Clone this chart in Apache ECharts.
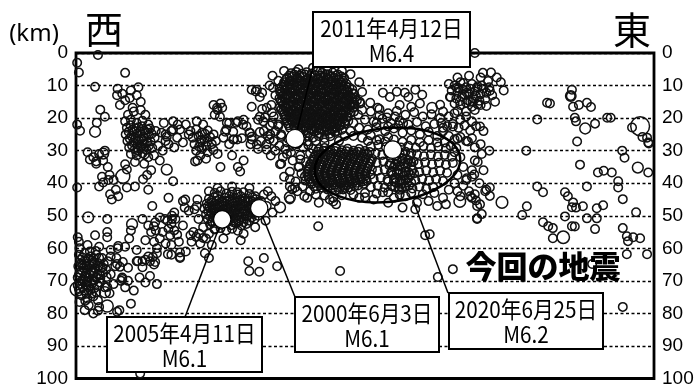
<!DOCTYPE html>
<html>
<head>
<meta charset="utf-8">
<script src="https://cdn.jsdelivr.net/npm/echarts@6/dist/echarts.min.js"></script>
<style>
html,body{margin:0;padding:0;background:#fff;}
#chart{width:698px;height:388px;}
</style>
</head>
<body>
<div id="chart"></div>
<script>
// Hypocentre cross-section, west (left) to east (right); x = horizontal position, y = depth (km)

// depth axis range and tick step (km)
const depthMin = 0;
const depthMax = 100;
const depthStep = 10;

// notable earthquakes
const mainDates = ['2011年4月12日', '2005年4月11日', '2000年6月3日', '2020年6月25日'];
const mainMags = [6.4, 6.1, 6.1, 6.2];
const mainX = [37.9, 25.3, 31.7, 54.8];
const mainDepth = [26.3, 51.1, 47.7, 29.7];

// small hypocentres, western part
const quakesWest = [
[0.2,3],[0.5,6],[3.8,0.6],[8.5,6.1],[3.3,10.4],
[7.2,11],[8,12.5],[9.5,11.5],[10.5,13],[8.5,14.5],[11.2,15],[9.8,16.8],[7.6,16],[10.8,10.5],[9.3,13.8],[7.1,13],
[4.2,17.4],[5,19.6],[3.6,21.4],[0.2,22],[0.7,23.9],
[8.5,21],[9.5,20.5],[10.5,21.5],[11.5,20.8],[12.5,22],[8.8,23],[9.8,23.5],[10.8,22.8],[11.8,23.8],[12.8,23.2],[13.8,24],
[8.6,25],[9.6,25.5],[10.6,24.8],[11.6,25.8],[12.6,25.2],[13.6,26],[8.9,27],[9.9,27.5],[10.9,26.8],[11.9,27.8],[12.9,27.2],
[9.2,29],[10.2,29.5],[11.2,28.8],[12.2,29.8],[13.2,29.2],[14.2,28.5],[9.5,31],[10.5,31.5],[11.5,30.8],[12.5,32],[13.5,31.5],
[10.2,33.5],[11.8,34],[13,36],[14.5,33],[15,30],[15.5,27],[14.8,24.5],[9,19],[10,18],[11.2,17.5],[12,19],
[10.3,26.2],[11.3,26.3],[9.3,26.3],[12.3,27.5],[10.7,28.2],[11.7,29.2],[10.1,24.1],[11.1,24.2],[12.1,24.6],[9.4,22.2],[10.4,30.4],
[9.1,24.2],[10.4,23.2],[11.4,22.5],[12.4,23.5],[9.7,28.4],[10.6,27.1],[11.6,27.1],[12.6,28.5],[10.8,30],[11.9,31.2],[13.1,24.8],
[15.5,25],[16.5,24],[17.5,26],[18,23.5],[16,28],[17,29],[18.5,27.5],[19.5,25],[15.2,21.5],[16.8,21],[19,22],[17.6,22],[16.8,23.5],[15.7,25.7],
[2,30.5],[3,32],[4,31],[5,30],[3.5,34],[5.5,35],[4.5,38],[5.8,37.5],[6.5,39],[4,41],[2.4,32.7],[4.7,33],[3.5,33.3],
[8.8,35.8],[8.5,34.2],[10.2,41],[12.5,42],[5.9,43.4],[6.9,42],[0.2,41.3],[8.8,41.3],[4.7,39.8],[5.6,39],[6.2,45],[7.3,44],
[11.6,38.8],[12.3,37.5],[16.8,39.4],[18.9,45],[16,44.5],[18.5,45.5],
[5.4,51],[0.3,56.6],[5.4,55],[5.4,56.6],[3.3,56],[7.3,59.3],[13.7,52],[13.5,53.2],[13.8,54.5],[15.4,51],[16.6,50],[16.6,51],
[11.5,51],[12.5,53],[13,55],[12,57.5],[13.5,58],[14.5,57],[15.5,58.5],[16.5,59],[14,60],[15.8,51.5],[16.5,52.5],[17.2,51],
[16,54],[17,54.5],[16.3,56],[17.5,55.8],[15,55],[17.8,58],[18.5,53],[14.5,50.5],[19.8,56],[19,61],[18,63],[16.5,62],
[12.8,64],[14,61.5],[18.8,47.5],[13.2,47],[17,49],[9.5,54.5],[9.2,57],[8.5,59.5],[10.5,60.5],[7.2,60],[6,62.5],
[10.5,64],[12,63.5],[13.5,65],[11.5,65.8],[18,62.7],[12.8,68.5],[15.9,61.8],[18,61.3],[13.3,62.7],[13.7,64.2],[10.7,63.9],
[0.5,62],[1.5,61.5],[2.5,62.5],[3.5,62],[4.5,63],[0.8,63.5],[1.8,64],[2.8,63.8],[3.8,64.5],[4.8,64.8],[0.4,65.5],[1.3,66],
[2.3,65.2],[3.3,66.2],[4.3,66],[5.2,66.5],[0.7,67.5],[1.7,67.8],[2.7,67.2],[3.7,68],[4.7,67.6],[0.3,69],[1.2,69.5],[2.2,69],
[3.2,69.8],[4.2,69.3],[5.3,68.8],[0.8,71],[1.8,71.2],[2.8,70.8],[3.8,71.5],[0.5,72.5],[1.5,73],[2.5,72.8],[3.5,73.5],
[1,74.5],[2,75.5],[3,74.8],[0.6,76.5],[2.2,77.5],[3.8,76],[5.5,64],[6,68],[6.5,71],[5,72],[6.8,65.5],[4,78],[1.5,79],[3,80],
[7,63],[8,69],[9,66],[8.5,72],[10,73],[11.5,64],[12.5,62.5],[11,69],[12,70.5],[14,71],[7.5,79],[9.5,77],
[0.5,58],[2,59],[4,59.5],[6,60.5],[0.6,60],[1.2,65],[2.6,66.8],[3.1,64.2],[4.1,70.5],[1.9,70.3],[2.4,61],[3.4,60.8],
[1.1,62.8],[2.1,63.1],[3.0,63.0],[4.0,62.9],[0.9,64.7],[1.9,65.3],[2.9,64.9],[3.9,65.4],[4.6,65.9],[1.0,66.8],[2.0,66.5],
[3.0,67.7],[4.2,68.3],[0.5,68.2],[1.5,68.6],[2.5,68.2],[3.5,68.9],[1.0,70.1],[2.0,70.0],[3.0,69.9],[0.3,71.4],[1.2,72.0],
[2.2,71.9],[3.2,72.3],[1.8,74.0],[2.7,73.9],
[7.1,64.8],[7.6,65.7],[8.1,64.2],[8,69.4],[7.8,70],[9,70],[5.4,71.9],[5.8,73.8],[1.6,76.1],[3.8,79.2],[7.1,79.5],[11.1,98.5]
];

// small hypocentres, central-western part
const quakesCentralWest = [
[19.8,24],[20.8,23.5],[21.8,24.5],[22.8,23.8],[23.8,25],[20.2,26],[21.2,25.5],[22.2,26.5],[23.2,25.8],[24.2,27],
[20.5,28],[21.5,27.5],[22.5,28.5],[23.5,28],[20.8,30],[21.8,29.5],[22.8,30.5],[23.8,29.8],[21.5,31.5],[22.5,32.5],
[21,33],[24.5,31],[20.9,21],[22,22],[20.6,33.3],[21.7,26.7],[22.7,27.3],[21.3,28.8],[22.3,24.8],
[24.4,16.8],[25.3,16.8],[24,19],[24.9,19.6],[23.8,16],[24.5,17.5],[25,15.5],[26.1,21.4],[27.7,21.4],[28.9,22],
[25.8,24.2],[27.2,24.2],[27.9,26.6],[28.7,26.2],[27.3,26.6],[30.4,25.7],[26.5,21.5],[29,20.5],[26,23.5],[28,21],[29.5,22.5],[30,24.5],
[30.4,11.3],[31.1,11.8],[31.8,13.5],[30.4,16.5],[33,16.8],[31.8,19.6],[32.4,21],[30.4,26.6],[30.2,28],[33.6,25],
[31.3,11.3],[32.2,12.2],[34.1,10.7],[32.2,17.2],[33.9,18.3],[31.5,20.5],[32.7,19.8],[33.6,22.3],[30.1,24.5],[31.8,24.3],
[33.2,25.5],[31.3,28.1],[33,29.7],[34,21.5],[35,22.5],[34.5,24],[35.5,25.5],[34.2,27],[35.2,28.5],[36.2,29.5],[33.5,26.5],
[33,28],[34.5,30],[33.7,31.5],[35.8,32],[32.5,24],[31.5,29.5],[32,27],
[25.5,26],[26.5,28],[27,31.5],[29,33],[28,35],[25,35],[27.2,26.6],[28.4,36.4],
[24,43],[25,42.5],[26,43.2],[27,42.6],[28,43.5],[29,42.8],[30,43.3],[31,44],
[23,44.8],[23.9,44.3],[24.8,45],[25.7,44.4],[26.6,45.1],[27.5,44.5],[28.4,45.2],[29.3,44.6],[30.2,45.3],[31.1,44.9],[32,45.5],
[22.6,46.3],[23.5,46],[24.4,46.6],[25.3,46.1],[26.2,46.7],[27.1,46.2],[28,46.8],[28.9,46.3],[29.8,46.9],[30.7,46.4],[31.6,47],
[22.2,47.8],[23.1,47.4],[24,48],[24.9,47.5],[25.8,48.1],[26.7,47.6],[27.6,48.2],[28.5,47.7],[29.4,48.3],[30.3,47.8],[31.2,48.4],[32.1,48],
[22.5,49.5],[23.4,49],[24.3,49.6],[25.2,49.1],[26.1,49.7],[27,49.2],[27.9,49.8],[28.8,49.3],[29.7,49.9],[30.6,49.4],[31.5,50],
[22.8,51],[23.7,50.6],[24.6,51.2],[25.5,50.7],[26.4,51.3],[27.3,50.8],[28.2,51.4],[29.1,50.9],[30,51.5],[30.9,51],
[23.2,52.6],[24.1,52.2],[25,52.8],[25.9,52.3],[26.8,52.9],[27.7,52.4],[28.6,53],[29.5,52.5],
[24,54.2],[25,53.8],[26,54.5],[27,54],[28,54.6],
[23.4,45.5],[24.3,45.4],[25.2,45.6],[26.1,45.4],[27,45.7],[27.9,45.5],[28.8,45.7],[29.7,45.5],[30.6,45.8],[31.5,45.7],
[22.8,47.1],[23.7,46.9],[24.6,47.2],[25.5,46.9],[26.4,47.3],[27.3,47],[28.2,47.3],[29.1,47],[30,47.4],[30.9,47.1],[31.8,47.4],
[22.9,48.7],[23.8,48.5],[24.7,48.8],[25.6,48.5],[26.5,48.9],[27.4,48.6],[28.3,48.9],[29.2,48.6],[30.1,49],[31,48.7],
[23.2,50.2],[24.1,50.1],[25,50.3],[25.9,50.1],[26.8,50.4],[27.7,50.1],[28.6,50.4],[29.5,50.2],[30.4,50.5],
[23.6,51.8],[24.5,51.7],[25.4,51.9],[26.3,51.7],[27.2,52],[28.1,51.7],[29,52],[24.5,43.8],[26.5,44],[28.5,44],[30.5,44.3],
[21,45],[20.5,48],[21.2,51],[22,53.5],[23,55.5],[29,55.5],[31,53.5],[32.8,51.5],[33,47],[32.5,43.5],[30,41.5],[27,41],
[24.5,41.5],[23,42.5],[34,49],[33.8,44],[22,56.8],[25.5,57],[19.5,48.5],[34.5,45.5],[20.9,47],
[28.5,57.5],[37,41],[37.9,41.3],[33.2,42.5],[27.9,42.8],
[29.8,64],[30,67],[31.7,67.2],[34.8,65.5],[32.5,63],[22.3,61.5],[23,63],[20.3,55],[20.8,56.5],[21.3,55.5],[20,58],
[21.5,58.5],[22.5,57],[23.5,59],[24,54],[23.5,52]
];

// small hypocentres around the 2011 event
const quakes2011Zone = [
[37.2,6.2],[38.1,5.8],[39,6.4],[39.9,5.9],[40.8,6.3],[41.7,5.7],[42.6,6.1],[43.5,6.5],[44.4,6],[45.3,6.6],
[36.5,7.6],[37.4,7.2],[38.3,7.8],[39.2,7.3],[40.1,7.9],[41,7.4],[41.9,8],[42.8,7.5],[43.7,8.1],[44.6,7.6],[45.5,8.2],[46.4,7.7],
[36,9],[36.9,8.6],[37.8,9.2],[38.7,8.7],[39.6,9.3],[40.5,8.8],[41.4,9.4],[42.3,8.9],[43.2,9.5],[44.1,9],[45,9.6],[45.9,9.1],[46.8,9.5],
[35.6,10.4],[36.5,10],[37.4,10.6],[38.3,10.1],[39.2,10.7],[40.1,10.2],[41,10.8],[41.9,10.3],[42.8,10.9],[43.7,10.4],[44.6,11],
[45.5,10.5],[46.4,11.1],[47.3,10.6],
[35.3,11.8],[36.2,11.4],[37.1,12],[38,11.5],[38.9,12.1],[39.8,11.6],[40.7,12.2],[41.6,11.7],[42.5,12.3],[43.4,11.8],[44.3,12.4],
[45.2,11.9],[46.1,12.5],[47,12],[47.9,12.4],
[35.7,13.2],[36.6,12.8],[37.5,13.4],[38.4,12.9],[39.3,13.5],[40.2,13],[41.1,13.6],[42,13.1],[42.9,13.7],[43.8,13.2],[44.7,13.8],
[45.6,13.3],[46.5,13.9],[47.4,13.4],[48.3,13.8],
[35.4,14.6],[36.3,14.2],[37.2,14.8],[38.1,14.3],[39,14.9],[39.9,14.4],[40.8,15],[41.7,14.5],[42.6,15.1],[43.5,14.6],[44.4,15.2],
[45.3,14.7],[46.2,15.3],[47.1,14.8],[48,15.2],
[35.8,16],[36.7,15.6],[37.6,16.2],[38.5,15.7],[39.4,16.3],[40.3,15.8],[41.2,16.4],[42.1,15.9],[43,16.5],[43.9,16],[44.8,16.6],
[45.7,16.1],[46.6,16.7],[47.5,16.2],
[35.5,17.4],[36.4,17],[37.3,17.6],[38.2,17.1],[39.1,17.7],[40,17.2],[40.9,17.8],[41.8,17.3],[42.7,17.9],[43.6,17.4],[44.5,18],
[45.4,17.5],[46.3,18.1],[47.2,17.6],[48.1,18],
[36,18.8],[36.9,18.4],[37.8,19],[38.7,18.5],[39.6,19.1],[40.5,18.6],[41.4,19.2],[42.3,18.7],[43.2,19.3],[44.1,18.8],[45,19.4],
[45.9,18.9],[46.8,19.5],
[36.3,20.2],[37.2,19.8],[38.1,20.4],[39,19.9],[39.9,20.5],[40.8,20],[41.7,20.6],[42.6,20.1],[43.5,20.7],[44.4,20.2],[45.3,20.8],
[46.2,20.3],[47.1,20.9],
[36.6,21.6],[37.5,21.2],[38.4,21.8],[39.3,21.3],[40.2,21.9],[41.1,21.4],[42,22],[42.9,21.5],[43.8,22.1],[44.7,21.6],[45.6,22.2],[46.5,21.7],
[37,23],[37.9,22.6],[38.8,23.2],[39.7,22.7],[40.6,23.3],[41.5,22.8],[42.4,23.4],[43.3,22.9],[44.2,23.5],[45.1,23],[46,23.6],
[38.5,24.4],[39.4,24],[40.3,24.6],[41.2,24.1],[42.1,24.7],[43,24.2],[43.9,24.8],[44.8,24.3],
[39,25.8],[40,25.4],[41,26],[42,25.5],[43,26.1],[44,25.6],[40,27.2],[41.5,27],[43,27.5],[38.5,27.5],
[36.9,6.9],[37.8,6.7],[38.7,7.0],[39.6,6.6],[40.5,7.1],[41.4,6.8],[42.3,7.0],[43.2,6.7],[44.1,7.1],[45,6.9],[45.9,7.2],
[36.3,8.2],[37.2,8.4],[38.1,8.1],[39,8.5],[39.9,8.2],[40.8,8.4],[41.7,8.1],[42.6,8.5],[43.5,8.2],[44.4,8.6],[45.3,8.3],[46.2,8.5],
[35.9,9.8],[36.8,9.6],[37.7,9.9],[38.6,9.5],[39.5,9.9],[40.4,9.6],[41.3,10],[42.2,9.7],[43.1,10.1],[44,9.8],[44.9,10.1],[45.8,9.8],[46.7,10.2],
[35.2,11.0],[36.1,11.2],[37,10.9],[37.9,11.3],[38.8,11.0],[39.7,11.3],[40.6,11.0],[41.5,11.3],[42.4,11.0],[43.3,11.4],[44.2,11.1],
[45.1,11.4],[46,11.1],[46.9,11.4],[47.8,11.2],
[35.5,12.4],[36.4,12.6],[37.3,12.3],[38.2,12.7],[39.1,12.4],[40,12.7],[40.9,12.4],[41.8,12.7],[42.7,12.4],[43.6,12.8],[44.5,12.5],
[45.4,12.8],[46.3,12.5],[47.2,12.8],[48.1,12.6],
[35.2,13.9],[36.1,14.0],[37,13.8],[37.9,14.1],[38.8,13.8],[39.7,14.1],[40.6,13.8],[41.5,14.1],[42.4,13.8],[43.3,14.2],[44.2,13.9],
[45.1,14.2],[46,13.9],[46.9,14.2],[47.8,14],[48.6,14.6],
[35.6,15.2],[36.5,15.4],[37.4,15.1],[38.3,15.5],[39.2,15.2],[40.1,15.5],[41,15.2],[41.9,15.5],[42.8,15.2],[43.7,15.6],[44.6,15.3],
[45.5,15.6],[46.4,15.3],[47.3,15.6],[48.2,15.8],
[35.3,16.6],[36.2,16.8],[37.1,16.5],[38,16.9],[38.9,16.6],[39.8,16.9],[40.7,16.6],[41.6,16.9],[42.5,16.6],[43.4,17],[44.3,16.7],
[45.2,17],[46.1,16.7],[47,17],[47.9,16.8],
[35.8,18.0],[36.7,18.2],[37.6,17.9],[38.5,18.3],[39.4,18.0],[40.3,18.3],[41.2,18.0],[42.1,18.3],[43,18.0],[43.9,18.4],[44.8,18.1],
[45.7,18.4],[46.6,18.1],[47.5,18.4],
[36.2,19.4],[37.1,19.6],[38,19.3],[38.9,19.7],[39.8,19.4],[40.7,19.7],[41.6,19.4],[42.5,19.7],[43.4,19.4],[44.3,19.8],[45.2,19.5],
[46.1,19.8],[47,19.6],
[36.5,20.8],[37.4,21],[38.3,20.7],[39.2,21.1],[40.1,20.8],[41,21.1],[41.9,20.8],[42.8,21.1],[43.7,20.8],[44.6,21.2],[45.5,20.9],[46.4,21.2],
[36.8,22.2],[37.7,22.4],[38.6,22.1],[39.5,22.5],[40.4,22.2],[41.3,22.5],[42.2,22.2],[43.1,22.5],[44,22.2],[44.9,22.6],[45.8,22.3],
[38,23.8],[38.9,23.6],[39.8,23.9],[40.7,23.5],[41.6,23.9],[42.5,23.6],[43.4,24],[44.3,23.7],[45.2,24],
[34,7],[33.5,10],[34.5,13],[33.8,16],[34.2,19.5],[35,22],[35.5,25],[36.8,26.5],[37.5,28.5],[49,9],[49.5,12],[49.2,15.5],
[48.8,19],[48,21.5],[47.5,24],[46.5,25.5],[45.5,27],[38.5,5],[41,4.5],[43.5,5],[46,5.5],[47.5,6.5],[36,5.5],[35,8.5],
[36.5,27.5],[37.5,26.5],[38.3,28],[39.3,29],[40.2,28.3],[39,26.8],[41,29.5],[37.2,30.5],[40.5,30.8],[38,24.8],
[49.1,15],[50.9,15.3],[52.2,16.8],[53.1,12.2],[54.3,13.5],[55.5,11.9],[56.9,12.2],[58.7,11.3],[59.9,12.8],[63,15.9],
[57.5,13.5],[56,16],[58,16.5],[59.5,15.5],[49.5,17.5],[51,18],[52.5,17.2],[54,18.5],[55.5,17.8],[57,19],[58.5,18.2],[60,19.5],
[61.5,18.8],[63,20],[50,20.5],[51.5,21],[53,20.2],[54.5,21.5],[56,20.8],[57.5,22],[59,21.2],[60.5,22.5],[62,21.8],[63.5,23],
[49,23],[50.5,23.5],[52,22.8],[53.5,24],[55,23.2],[56.5,24.5],[58,23.8],[59.5,25],[61,24.2],[62.5,25.5],[48,25.5],[49.5,26],
[51,25.3],[52.5,26.5],[54,25.8],[52.5,19.2],[53.8,19.8],[55.2,19.5],[56.6,21.6],[52,21.6],[54,22.6],[55.8,22.2]
];

// small hypocentres inside and around the 2020 ellipse
const quakesEllipse = [
[42,29.6],[43,29.2],[44,29.8],[45,29.3],[46,29.9],[47,29.4],[48,30],[49,29.5],[50,30.1],
[41.5,31.2],[42.5,30.8],[43.5,31.4],[44.5,30.9],[45.5,31.5],[46.5,31],[47.5,31.6],[48.5,31.1],[49.5,31.7],[50.5,31.2],
[41,32.7],[42,32.3],[43,32.9],[44,32.4],[45,33],[46,32.5],[47,33.1],[48,32.6],[49,33.2],[50,32.7],[51,33.3],
[40.5,34.2],[41.5,33.8],[42.5,34.4],[43.5,33.9],[44.5,34.5],[45.5,34],[46.5,34.6],[47.5,34.1],[48.5,34.7],[49.5,34.2],[50.5,34.8],
[40.2,35.7],[41.2,35.3],[42.2,35.9],[43.2,35.4],[44.2,36],[45.2,35.5],[46.2,36.1],[47.2,35.6],[48.2,36.2],[49.2,35.7],[50.2,36.3],[51.2,35.8],
[40,37.2],[41,36.8],[42,37.4],[43,36.9],[44,37.5],[45,37],[46,37.6],[47,37.1],[48,37.7],[49,37.2],[50,37.8],[51,37.3],
[40.3,38.7],[41.3,38.3],[42.3,38.9],[43.3,38.4],[44.3,39],[45.3,38.5],[46.3,39.1],[47.3,38.6],[48.3,39.2],[49.3,38.7],[50.3,39.3],
[40.8,40.2],[41.8,39.8],[42.8,40.4],[43.8,39.9],[44.8,40.5],[45.8,40],[46.8,40.6],[47.8,40.1],[48.8,40.7],[49.8,40.2],
[41.5,41.7],[42.5,41.3],[43.5,41.9],[44.5,41.4],[45.5,42],[46.5,41.5],[47.5,42.1],
[41.8,30.3],[42.8,30.1],[43.8,30.5],[44.8,30.1],[45.8,30.6],[46.8,30.2],[47.8,30.7],[48.8,30.3],[49.8,30.8],[50.8,30.4],
[41.2,31.9],[42.2,31.6],[43.2,32.1],[44.2,31.7],[45.2,32.2],[46.2,31.8],[47.2,32.3],[48.2,31.9],[49.2,32.4],[50.2,32],[51.2,32.5],
[40.8,33.4],[41.8,33.1],[42.8,33.6],[43.8,33.2],[44.8,33.7],[45.8,33.3],[46.8,33.8],[47.8,33.4],[48.8,33.9],[49.8,33.5],[50.8,34],
[40.4,35],[41.4,34.6],[42.4,35.1],[43.4,34.7],[44.4,35.2],[45.4,34.8],[46.4,35.3],[47.4,34.9],[48.4,35.4],[49.4,35],[50.4,35.5],
[40.1,36.4],[41.1,36.1],[42.1,36.6],[43.1,36.2],[44.1,36.7],[45.1,36.3],[46.1,36.8],[47.1,36.4],[48.1,36.9],[49.1,36.5],[50.1,37],
[40.2,37.9],[41.2,37.6],[42.2,38.1],[43.2,37.7],[44.2,38.2],[45.2,37.8],[46.2,38.3],[47.2,37.9],[48.2,38.4],[49.2,38],[50.2,38.5],
[40.6,39.5],[41.6,39.1],[42.6,39.6],[43.6,39.2],[44.6,39.7],[45.6,39.3],[46.6,39.8],[47.6,39.4],[48.6,39.9],[49.6,39.5],
[41.2,41],[42.2,40.6],[43.2,41.1],[44.2,40.7],[45.2,41.2],[46.2,40.8],[47.2,41.3],[48.2,40.9],
[50.5,27],[52,26.8],[53.5,27.2],[55,26.6],[56.5,27.3],[58,26.7],[59.5,27.4],[61,26.8],[62.5,27.5],
[51,28.7],[52.3,28.2],[53.6,28.9],[54.9,28.4],[56.2,29],[57.5,28.5],[58.8,29.1],[60.1,28.6],[61.4,29.2],[62.7,28.7],[64,29.3],
[51.8,30.8],[53,31.3],[54.2,30.9],[55.4,31.5],[56.6,31],[57.8,31.6],[59,31.1],[60.2,31.7],[61.4,31.2],[62.6,31.8],[63.8,31.3],[65,31.9],
[52,33.7],[53.2,33.3],[54.4,33.9],[55.6,33.4],[56.8,34],[58,33.5],[59.2,34.1],[60.4,33.6],[61.6,34.2],[62.8,33.7],[64,34.3],[65.2,33.8],
[52.2,36.2],[53.4,35.8],[54.6,36.4],[55.8,35.9],[57,36.5],[58.2,36],[59.4,36.6],[60.6,36.1],[61.8,36.7],[63,36.2],[64.2,36.8],
[51.5,38.7],[52.7,38.3],[53.9,38.9],[55.1,38.4],[56.3,39],[57.5,38.5],[58.7,39.1],[59.9,38.6],[61.1,39.2],[62.3,38.7],[63.5,39.3],
[51,41.2],[52.2,40.8],[53.4,41.4],[54.6,40.9],[55.8,41.5],[57,41],[58.2,41.6],[59.4,41.1],[60.6,41.7],[61.8,41.2],
[52,43.2],[54,42.8],[56,43.5],[58,43],[60,43.4],[62,43],
[54.5,32.2],[55.5,32.8],[56.5,32.3],[57.5,32.9],[55,35],[56,34.7],[57,35.2],[58,34.8],[54.8,37.5],[55.8,37.2],[56.8,37.8],
[57.8,37.3],[55.3,39.8],[56.3,40.2],[57.3,39.7],[56,42],[57,44],[55,44.5],
[54,30.5],[55,30.2],[56,30.7],[57,30.3],[58,30.8],[54.2,34.5],[55.2,34.3],[56.4,33.2],[57.4,33.8],[58.4,33.3],[54.5,36.8],
[55.5,36.5],[56.5,36.9],[57.5,36.6],[58.5,37],[54,39.5],[55,39.3],[56,39.6],[57,39.1],[58,39.8],[55.2,41.2],[56.4,41.5],[57.6,40.8],
[37.5,33],[38.5,35],[39,37],[38,39.5],[39.2,41],[38.3,42.5],[39.5,44],[37,45],[36,38],[37,36.5],[38.8,31.5],[39.8,33.5],
[36.5,31],[35.5,34],[39.7,39.2],[40.5,42.5],[40,44.5],[41.5,43.5],[43,43.8],[44.5,44.5],[46,43.7],[48,43.5],[50,43],[49,44.5],
[42,46],[45,46.5],[35.3,34.2],[38.8,32.7],[38.6,34.9],[39.6,37.9],[37,38.8],[37.4,41.9],[43.9,45],[44.5,45.6],[46.2,41.9],
[50,44.3],[53.1,42.8],[41.9,53.2],[58.7,48],[61.2,55.7],[60.4,56],
[65.5,30.5],[66.5,32],[67,35],[66,37.5],[65.5,40],[67.5,39],[68,42.5],[66.5,44],[64.5,42],[63.5,44.5],[68.5,36],[69,33],
[64,46.5],[61,45.5],[59,46],[56.5,47.5],[54,46],[51.5,45],[62.5,47],
[45.7,67],[62.6,68.8],[65.2,66.4]
];

// small hypocentres, eastern part
const quakesEast = [
[64.5,9.5],[65.5,10],[66.5,9],[67.5,10.5],[68.5,9.5],[69.5,10.2],[70.5,11],[71.5,10.5],[65,11.5],[66,12],[67,11.3],[68,12.5],
[69,11.8],[70,12.7],[71,12.2],[72,13],[64.8,13.5],[65.8,14],[66.8,13.3],[67.8,14.5],[68.8,13.8],[69.8,14.7],[70.8,14.2],
[65.5,15.5],[66.5,16],[67.5,15.3],[68.5,16.5],[69.5,15.8],[71,16.3],[66,17.8],[67.5,18],[69,17.5],[71.8,6],[72.8,7.5],
[73.5,9],[74,11.5],[68,7],[70,7.5],[66,7.5],[72.5,15],[64.7,13.5],[65.9,10.7],[67,9.2],[67.6,12.2],[69.4,10.7],[68.2,15],
[66.2,10.8],[67.2,12.8],[68.2,11],[69.2,13.2],[70.2,10],[68.6,14.8],[66.4,14.8],[70,16],
[63.5,18],[64.5,19.5],[65.5,18.5],[66.5,20.5],[67.5,19.5],[68.5,21],[63.2,21.5],[64.2,22.5],[65.2,21.8],[66.2,23],[67.2,22.3],
[68.2,23.8],[69.2,22.5],[70.5,24],[64.5,25.5],[65.5,26.5],[66.5,25.8],[67.5,27],[68.5,26.2],[63.8,27.5],[64.8,28.5],[65.8,29.2],
[70,28],[71.5,30],[69.9,22.6],[65.2,22.6],[63.5,24],[66,26.3],[67.8,27.2],[69,29],[70.2,31],[69.5,33.5],[70.5,36],[68.5,38],
[69.8,40],[71,42],[67,40.8],[66,42.5],[67.6,38.5],[68.9,37.3],
[69,0],[70.4,6.1],[71.3,8.6],[71.6,11.6],
[81.5,15.3],[82,15.5],[85.8,11.3],[85.6,13.2],[86,16.5],[87,16],[88.4,15.3],[89.1,16.6],[86.3,19.9],[86.5,21],[89.8,21.7],
[91.9,19.9],[92.5,19.9],[79.8,20.4],[86.7,27.2],[77.9,30],[94.5,30],[96.2,22.9],[98,25.8],[99,27.5],[98.8,26],[99.1,27.8],
[94.9,32.2],[87.2,34.3],[90.3,36.7],[91.3,36.2],[92.7,36.7],[93.8,39.4],[99,36.7],[88.4,41],[93.8,41.3],[94.6,44.9],
[79.8,41],[80.8,42.8],[84.6,42.8],[85.1,44],[86,45.9],[85.8,47.4],[86.5,47.5],[87.7,47.1],[90.1,47.7],[91.2,46.8],
[88.4,50.8],[90.1,50.8],[78,47.1],[77.2,49.8],[80.8,52],[81.7,53.2],[82.5,53.8],[84.6,50.2],[85.8,53.2],[86.3,53.3],
[82.5,56.9],[89.8,54.1],[94.6,53.8],[95.3,56.3],[96.4,56.6],[97.6,56.9],[95.5,57.8],[96.9,48.9],
[69,43.4],[69.2,45.3],[69.9,46.5],[70.8,42.5],[71.6,41.3],[71.6,43.9],[70.2,49.5],[69.4,50.8],[68.5,44.5],[68.2,44],
[69.4,47],[69.4,51],[89.3,64.8],[95.3,61.8],[98.8,61.8],[94.6,78]
];

// larger hypocentres: [x, depth, magnitude]
const largerQuakes = [
[97.6,22.5,5.0],[8.1,37.9,3.8],[0.2,72.5,3.8],[84.3,56.6,3.4],[73.7,45.9,3.2],[66.4,45.6,3.2],[2.1,50.5,3.0],
[9.7,52.6,3.0],[5.4,77.7,3.3],[35.3,47.4,3.0],[37,44.3,3.0],[3.3,24.2,3.0],[4.7,30.9,3.0],[61.6,16.8,2.9],
[88.1,23.2,3.0],[97.2,35.2,3.0],[15.7,35.8,3.0],[5,73.5,3.0],[85.6,13.2,2.9]
];

const smallQuakes = [].concat(quakesWest, quakesCentralWest, quakes2011Zone, quakesEllipse, quakesEast);

const chart = echarts.init(document.getElementById('chart'), null, { renderer: 'canvas' });

const axisFont = 'Liberation Sans';

function depthAxis(position, showSplit) {
  return {
    type: 'value',
    position: position,
    inverse: true,
    min: depthMin,
    max: depthMax,
    interval: depthStep,
    axisLine: { show: false },
    axisTick: { show: false },
    axisLabel: { color: '#000', fontSize: 19, fontFamily: axisFont, margin: 8 },
    splitLine: { show: showSplit, lineStyle: { color: '#000', width: 1.3, type: [3, 2.5] } }
  };
}

chart.setOption({
  animation: false,
  backgroundColor: '#fff',
  grid: { left: 76, right: 44, top: 53, bottom: 8, show: true, borderColor: '#000', borderWidth: 2.8, backgroundColor: 'transparent' },
  xAxis: { type: 'value', min: 0, max: 100, show: false },
  yAxis: [depthAxis('left', true), depthAxis('right', false)],
  series: [
    {
      name: '震源',
      type: 'scatter',
      data: smallQuakes.concat(largerQuakes),
      symbol: 'circle',
      symbolSize: function (v) { return v.length > 2 ? 4 * (v[2] - 0.3) : 8.5; },
      itemStyle: { color: 'rgba(0,0,0,0)', borderColor: '#111', borderWidth: 1.5, opacity: 1 },
      z: 2
    },
    {
      name: '主な地震',
      type: 'scatter',
      data: mainX.map(function (x, i) { return [x, mainDepth[i], mainMags[i]]; }),
      symbol: 'circle',
      symbolSize: function (v) { return 3 * v[2] - 1; },
      itemStyle: { color: '#fff', borderColor: '#000', borderWidth: 1.2, opacity: 1 },
      z: 10
    }
  ]
});

// annotation boxes (pixel layout) and the leader-line anchor on each box
const boxes = [
  { x: 313, y: 12, w: 157, h: 55, anchor: [313, 67] },
  { x: 107, y: 317, w: 155, h: 55, anchor: [185, 317] },
  { x: 295, y: 297, w: 144, h: 55, anchor: [295, 297] },
  { x: 449, y: 293, w: 154, h: 56, anchor: [448, 293] }
];
// the 2020 box points at the outlined cluster rather than the single event
const ellipseShape = { cx: 387.5, cy: 165, rx: 73, ry: 37, rotation: 0.1, leaderFrom: [413, 200] };

const graphics = [];
boxes.forEach(function (b, i) {
  let target;
  if (i === 3) {
    target = ellipseShape.leaderFrom;
  } else {
    target = chart.convertToPixel({ seriesIndex: 1 }, [mainX[i], mainDepth[i]]);
  }
  graphics.push({
    type: 'line', z: 5,
    shape: { x1: b.anchor[0], y1: b.anchor[1], x2: target[0], y2: target[1] },
    style: { stroke: '#000', lineWidth: 1.5 }
  });
  graphics.push({
    type: 'rect', z: 20,
    shape: { x: b.x, y: b.y, width: b.w, height: b.h },
    style: { fill: '#fff', stroke: '#000', lineWidth: 2 }
  });
  graphics.push({
    type: 'text', z: 21,
    x: b.x + b.w / 2, y: b.y + b.h / 2 + 1, scaleX: 0.9,
    style: {
      text: mainDates[i] + '\nM' + mainMags[i].toFixed(1),
      fill: '#000', fontSize: 23, fontFamily: 'Noto Sans CJK JP', lineHeight: 25,
      align: 'center', verticalAlign: 'middle'
    }
  });
});

graphics.push({
  type: 'ellipse', z: 8,
  x: ellipseShape.cx, y: ellipseShape.cy, rotation: ellipseShape.rotation,
  shape: { cx: 0, cy: 0, rx: ellipseShape.rx, ry: ellipseShape.ry },
  style: { fill: 'none', stroke: '#000', lineWidth: 2.5 }
});

graphics.push({ type: 'text', z: 30, x: 104, y: 29,
  style: { text: '西', fill: '#000', fontSize: 38, fontFamily: 'Noto Sans CJK JP', align: 'center', verticalAlign: 'middle' } });
graphics.push({ type: 'text', z: 30, x: 632, y: 30,
  style: { text: '東', fill: '#000', fontSize: 38, fontFamily: 'Noto Sans CJK JP', align: 'center', verticalAlign: 'middle' } });
graphics.push({ type: 'text', z: 30, x: 34, y: 34,
  style: { text: '(km)', fill: '#000', fontSize: 24, fontFamily: 'Noto Sans', align: 'center', verticalAlign: 'middle' } });
graphics.push({ type: 'text', z: 30, x: 543, y: 266,
  style: { text: '今回の地震', fill: '#000', fontSize: 31, fontWeight: 900, fontFamily: 'Noto Sans CJK JP', align: 'center', verticalAlign: 'middle' } });

chart.setOption({ graphic: graphics });
</script>
</body>
</html>
